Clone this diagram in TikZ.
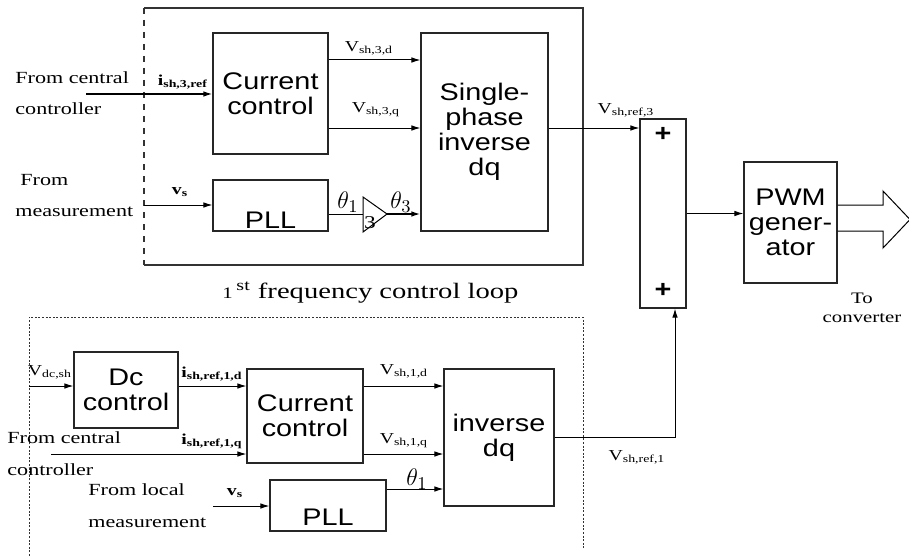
\documentclass[tikz,border=0pt]{standalone}
\usepackage{fontspec}
\setmainfont[FakeStretch=1.3]{Liberation Serif}
\newfontfamily\blockfont[FakeStretch=1.2]{Liberation Sans}
\usetikzlibrary{arrows.meta}
\tikzset{
  blk/.style={draw=black!85,line width=0.6pt,align=center,inner sep=0pt,font=\blockfont\fontsize{12}{12.5}\selectfont},
  sg/.style={line width=0.5pt,-{Latex[length=4.5pt,width=2.8pt]}},
  lbl/.style={align=left,anchor=west,inner sep=0pt,font=\fontsize{8.5}{15.5}\selectfont},
  sub/.style={inner sep=0pt,font=\fontsize{7.6}{9}\selectfont},
  ang/.style={inner sep=0pt,font=\fontsize{13}{13}\selectfont},
  pls/.style={inner sep=0pt,font=\blockfont\bfseries\fontsize{12}{12}\selectfont},
  loopbox/.style={line width=0.6pt,draw=black!80}
}
\newcommand{\vsub}[1]{V\textsubscript{#1}}
\newcommand{\isub}[1]{\textbf{i}\textsubscript{\textbf{#1}}}
\newcommand{\vsig}{\textbf{v}\textsubscript{\textbf{s}}}

\begin{document}
\begin{tikzpicture}[x=0.5pt,y=-0.5pt]
\useasboundingbox (0,0) rectangle (909,556);
\draw[loopbox] (144,8) -- (583,8) -- (583,265) -- (144,265);
\draw[loopbox,dashed] (144,8) -- (144,265);
\node[blk,minimum width=57.5pt,minimum height=60.5pt] (cc3) at (270.5,93.5) {Current\\control};
\node[blk,minimum width=63.5pt,minimum height=99pt] (dq3) at (484.5,132) {Single-\\phase\\inverse\\dq};
\node[blk,minimum width=57.5pt,minimum height=25.5pt,text height=23pt,text depth=0pt] (pll3) at (270.5,205.5) {PLL};
\coordinate (gin) at (363,214); \coordinate (gout) at (387,214);
\draw[line width=0.5pt] (363,197) -- (gout) -- (363,232) -- cycle; \node[sub,font=\fontsize{9}{9}\selectfont] at (370,223) {3};
\coordinate (in3) at (86,94); \coordinate (ms3) at (144,205);
\draw[sg,line width=0.7pt] (in3) -- (cc3.west |- in3);
\draw[sg] (ms3) -- (pll3.west |- ms3);
\draw[sg] (cc3.east |- 0,60) -- (dq3.west |- 0,60);
\draw[sg] (cc3.east |- 0,128) -- (dq3.west |- 0,128);
\draw[line width=0.5pt] (pll3.east |- gin) -- (gin);
\draw[sg,line width=0.8pt] (gout) -- (dq3.west |- gout);
\node[lbl] at (15,93) {From central\\controller};
\node[lbl] at (15,196) {\hspace{2.5pt}From\\measurement};
\node[sub] at (183,82) {\isub{sh,3,ref}};
\node[sub] at (180,192) {\vsig};
\node[sub] at (369,48) {\vsub{sh,3,d}};
\node[sub] at (376,110) {\vsub{sh,3,q}};
\node[ang] at (348,202) {$\theta_1$};
\node[ang] at (401,202) {$\theta_3$};
\node[anchor=base west,inner sep=0pt,font=\fontsize{11}{11}\selectfont] at (222,298) {{\fontsize{8}{8}\selectfont 1}\,\textsuperscript{st} frequency control loop};

\node[blk,minimum width=23pt,minimum height=94.5pt] (sum) at (663,213.5) {};
\node[pls] at (663,134) {+};
\node[pls] at (663,290) {+};
\node[blk,minimum width=46.5pt,minimum height=60.5pt] (pwm) at (790.5,222.5) {PWM\\gener-\\ator};
\draw[sg] (dq3.east |- 0,128) -- (sum.west |- 0,128);
\node[sub] at (626,110) {\vsub{sh,ref,3}};
\draw[sg] (sum.east) -- (sum.east -| pwm.west);
\draw[line width=0.5pt] (pwm.east |- 0,205) -- (883,205) -- (883,191) -- (910,219.5) -- (883,248) -- (883,231) -- (pwm.east |- 0,231);
\node[align=center,inner sep=0pt,font=\fontsize{8}{9.5}\selectfont] at (862,308) {To\\converter};

\draw[loopbox,line width=0.5pt,dash pattern=on 1pt off 0.8pt] (29,556) -- (29,317) -- (583,317) -- (583,548);
\node[blk,minimum width=52pt,minimum height=38pt] (dc) at (126,390) {Dc\\control};
\node[blk,minimum width=58pt,minimum height=47pt] (cc1) at (305,416) {Current\\control};
\node[blk,minimum width=55pt,minimum height=68.5pt] (dq1) at (499,437.5) {inverse\\dq};
\node[blk,minimum width=58pt,minimum height=25.5pt,text height=20pt,text depth=0pt] (pll1) at (328,505.5) {PLL};
\coordinate (vdc) at (29,386); \coordinate (iq) at (51,454); \coordinate (ms1) at (213,506); \coordinate (jn) at (675,437.5);
\draw[sg] (vdc) -- (dc.west |- vdc);
\draw[sg] (dc.east |- vdc) -- (cc1.west |- vdc);
\draw[sg] (iq) -- (cc1.west |- iq);
\draw[sg] (cc1.east |- vdc) -- (dq1.west |- vdc);
\draw[sg] (cc1.east |- iq) -- (dq1.west |- iq);
\draw[sg] (pll1.east |- 0,489) -- (dq1.west |- 0,489);
\draw[sg] (ms1) -- (pll1.west |- ms1);
\draw[sg] (dq1.east |- jn) -- (jn) -- (jn |- sum.south);
\node[sub] at (50,372) {\vsub{dc,sh}};
\node[sub] at (212,374) {\isub{sh,ref,1,d}};
\node[sub] at (212,441) {\isub{sh,ref,1,q}};
\node[sub] at (404,371) {\vsub{sh,1,d}};
\node[sub] at (404,441) {\vsub{sh,1,q}};
\node[ang] at (417,479) {$\theta_1$};
\node[sub] at (235,493) {\vsig};
\node[sub] at (637,457) {\vsub{sh,ref,1}};
\node[lbl,font=\fontsize{8.5}{16}\selectfont] at (7,454) {From central\\controller};
\node[lbl,font=\fontsize{8.5}{16}\selectfont] at (88,506) {From local\\measurement};
\end{tikzpicture}
\end{document}
